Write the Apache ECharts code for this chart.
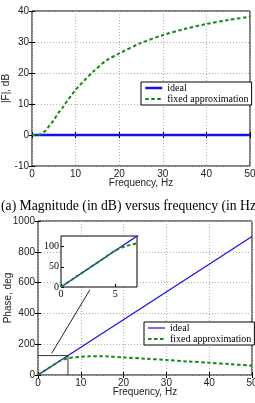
<!DOCTYPE html>
<html>
<head>
<meta charset="utf-8">
<script src="https://cdn.jsdelivr.net/npm/echarts@6/dist/echarts.min.js"></script>
<style>
  html, body { margin: 0; padding: 0; background: #fff; }
  #chart { width: 255px; height: 403px; }
</style>
</head>
<body>
<div id="chart"></div>
<script>
// magnitude plot (top)
const freqIdeal = [0, 50]
const magIdeal = [0, 0]
const freqMag = [0, 1, 2, 3, 4, 5, 6, 7, 8, 9, 10, 12, 14, 17, 20, 25, 30, 35, 40, 45, 50]
const magApprox = [0, 0, 0.3, 1.3, 3.0, 4.8, 7.0, 8.8, 10.9, 12.7, 14.6, 17.6, 20.4, 24.0, 26.3, 29.7, 32.2, 34.2, 35.8, 37.1, 38.1]

// phase plot (bottom)
const phaseIdeal = [0, 900]
const freqPhase = [0, 1, 2, 3, 4, 5, 6, 7, 8, 10, 12, 14, 16, 20, 25, 30, 35, 40, 45, 50]
const phaseApprox = [0, 18, 36, 54, 72, 90, 101, 108, 113, 118, 121, 122, 121, 114, 106, 97, 88, 80, 70, 61]

// zoom box + arrow (data coords of bottom plot)
const zoomBoxX = [0, 7, 7]
const zoomBoxY = [126, 126, 0]
const arrowFrom = [12.1, 552]
const arrowTo = [3.2, 141]

const seriesNames = ['ideal', 'fixed approximation']
const captionText = '(a) Magnitude (in dB) versus frequency (in Hz)'

const BLUE = '#1010f0'
const GREEN = '#148a14'
const sans = 'Liberation Sans'
const serif = 'Liberation Serif'

const pairs = (xs, ys) => xs.map((x, i) => [x, ys[i]])
const plain = v => String(v)

const tickInside = { show: true, inside: true, length: 3, lineStyle: { color: '#000' } }
const gridLine = { show: true, lineStyle: { color: '#b0b0b0', type: [1, 2], width: 1 } }
const labelStyle = { fontFamily: sans, fontSize: 10, color: '#222', margin: 3, formatter: plain }
const nameStyle = { fontFamily: sans, fontSize: 10, color: '#222' }

// main axes (bottom/left with labels, top/right only ticks)
const mainX = (grid, name) => ({
  type: 'value', gridIndex: grid, min: 0, max: 50, interval: 10,
  name: name, nameLocation: 'middle', nameGap: 12, nameMoveOverlap: false,
  nameTextStyle: nameStyle,
  axisLine: { show: false }, axisTick: tickInside, splitLine: gridLine,
  axisLabel: labelStyle
})
const mainY = (grid, min, max, interval, name, gap) => ({
  type: 'value', gridIndex: grid, min: min, max: max, interval: interval,
  name: name, nameLocation: 'middle', nameGap: gap, nameMoveOverlap: false,
  nameTextStyle: nameStyle,
  axisLine: { show: false }, axisTick: tickInside, splitLine: gridLine,
  axisLabel: labelStyle
})
const ticksOnly = (base, pos) => Object.assign({}, base, {
  position: pos, name: '', axisLabel: { show: false }, splitLine: { show: false }
})

const xTop = mainX(0, 'Frequency, Hz')
const yTop = mainY(0, -10, 40, 10, '|F|, dB', 21)
const xBot = mainX(1, 'Frequency, Hz')
const yBot = mainY(1, 0, 1000, 200, 'Phase, deg', 25)

const insetLabel = { fontFamily: serif, fontSize: 10, color: '#000', margin: 2, showMaxLabel: false, formatter: plain }

const legendBase = {
  orient: 'vertical', itemWidth: 17, itemHeight: 8, itemGap: 1,
  padding: [1, 3, 1, 3], borderColor: '#000', borderWidth: 1, borderRadius: 0,
  backgroundColor: '#fff', textStyle: { fontFamily: serif, fontSize: 10, lineHeight: 10, color: '#000' },
  itemStyle: { opacity: 0 },
  selectedMode: false, z: 8
}

const gridBase = { show: true, borderColor: '#000', borderWidth: 1, backgroundColor: '#fff', outerBoundsMode: 'none', containLabel: false }

const chart = echarts.init(document.getElementById('chart'), null, { renderer: 'canvas' })

chart.setOption({
  animation: false,
  title: {
    text: captionText, left: 1, top: 199, padding: 0,
    textStyle: { fontFamily: serif, fontSize: 13.7, fontWeight: 'normal', color: '#000' }
  },
  grid: [
    Object.assign({ left: 32, top: 11, width: 218, height: 155 }, gridBase),
    Object.assign({ left: 38, top: 221, width: 214, height: 154 }, gridBase),
    Object.assign({ left: 61, top: 236, width: 76, height: 51, z: 5 }, gridBase)
  ],
  xAxis: [
    xTop, ticksOnly(xTop, 'top'),
    xBot, ticksOnly(xBot, 'top'),
    {
      type: 'value', gridIndex: 2, min: 0, max: 7, interval: 5, z: 6,
      axisLine: { show: false }, axisTick: tickInside, splitLine: { show: false },
      axisLabel: insetLabel
    }
  ],
  yAxis: [
    yTop, ticksOnly(yTop, 'right'),
    yBot, ticksOnly(yBot, 'right'),
    {
      type: 'value', gridIndex: 2, min: 0, max: 126, interval: 50, z: 6,
      axisLine: { show: false }, axisTick: tickInside, splitLine: { show: false },
      axisLabel: insetLabel
    }
  ],
  legend: [
    Object.assign({}, legendBase, {
      left: 141, top: 82,
      data: [
        { name: seriesNames[0], lineStyle: { width: 2.5 } },
        { name: seriesNames[1], lineStyle: { width: 2 } }
      ]
    }),
    Object.assign({}, legendBase, {
      left: 144, top: 322,
      data: [
        { name: seriesNames[0], lineStyle: { width: 1.2 } },
        { name: seriesNames[1], lineStyle: { width: 2 } }
      ]
    })
  ],
  series: [
    {
      name: seriesNames[0], type: 'line', xAxisIndex: 0, yAxisIndex: 0,
      data: pairs(freqIdeal, magIdeal), symbol: 'none',
      lineStyle: { color: BLUE, width: 2.5 }, itemStyle: { color: BLUE }, z: 3
    },
    {
      name: seriesNames[1], type: 'line', xAxisIndex: 0, yAxisIndex: 0,
      data: pairs(freqMag, magApprox), symbol: 'none', smooth: 0.3,
      lineStyle: { color: GREEN, width: 2, type: [3.5, 2.5] }, itemStyle: { color: GREEN }
    },
    {
      name: seriesNames[0], type: 'line', xAxisIndex: 2, yAxisIndex: 2,
      data: pairs(freqIdeal, phaseIdeal), symbol: 'none',
      lineStyle: { color: BLUE, width: 1.2 }, itemStyle: { color: BLUE }
    },
    {
      name: seriesNames[1], type: 'line', xAxisIndex: 2, yAxisIndex: 2,
      data: pairs(freqPhase, phaseApprox), symbol: 'none', smooth: 0.3,
      lineStyle: { color: GREEN, width: 2, type: [3.5, 2.5] }, itemStyle: { color: GREEN }
    },
    {
      name: 'zoom box', type: 'line', xAxisIndex: 2, yAxisIndex: 2,
      data: pairs(zoomBoxX, zoomBoxY), symbol: 'none', silent: true,
      lineStyle: { color: '#333', width: 1 },
      markLine: {
        silent: true, symbol: ['none', 'arrow'], symbolSize: [0, 8], label: { show: false },
        lineStyle: { color: '#222', width: 1, type: 'solid' },
        data: [[{ coord: arrowFrom }, { coord: arrowTo }]]
      }
    },
    {
      name: 'inset ideal', type: 'line', xAxisIndex: 4, yAxisIndex: 4, z: 7,
      data: pairs(freqIdeal, phaseIdeal), symbol: 'none', clip: true,
      lineStyle: { color: BLUE, width: 1.2 }
    },
    {
      name: 'inset approx', type: 'line', xAxisIndex: 4, yAxisIndex: 4, z: 7,
      data: pairs(freqPhase, phaseApprox), symbol: 'none', clip: true, smooth: 0.3,
      lineStyle: { color: GREEN, width: 2, type: [3.5, 2.5] }
    }
  ]
})
</script>
</body>
</html>
